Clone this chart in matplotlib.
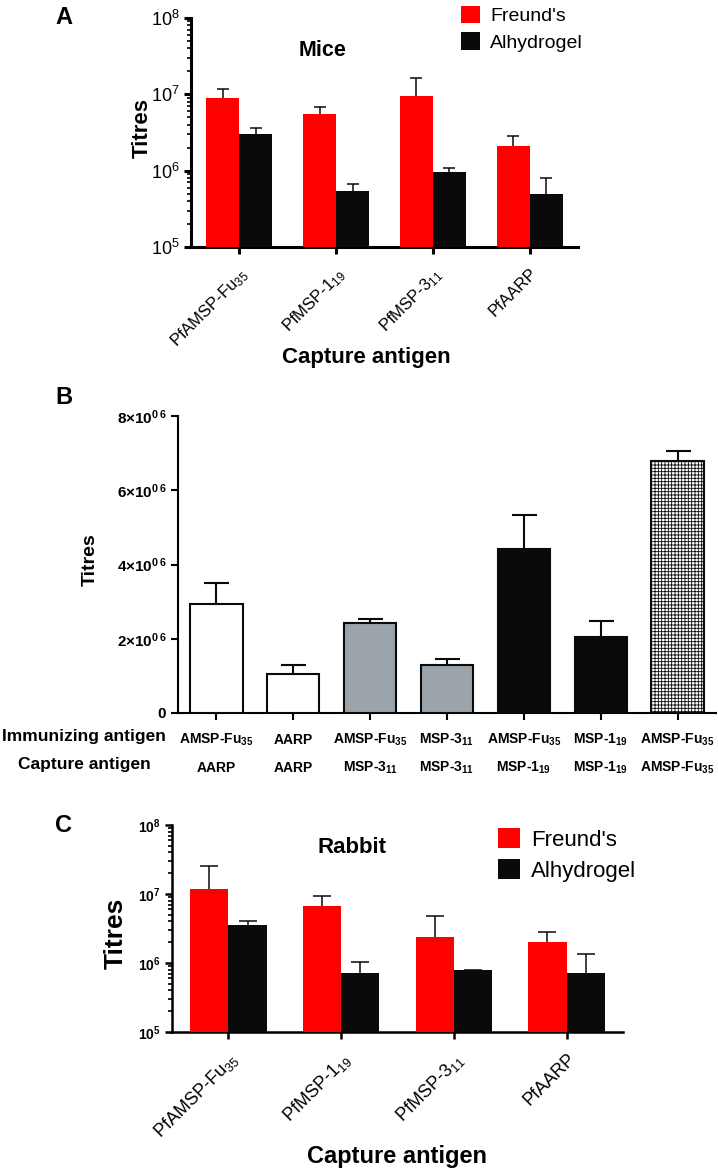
import matplotlib
matplotlib.use("Agg")
from matplotlib import pyplot as plt
from matplotlib.transforms import ScaledTranslation
import numpy as np

plt.rcParams['font.family'] = ['Liberation Sans', 'DejaVu Sans']
plt.rcParams['mathtext.default'] = 'regular'
plt.rcParams['hatch.linewidth'] = 0.6

# Panel A - mice, log titres per capture antigen
capture = ['PfAMSP-Fu$_{35}$', 'PfMSP-1$_{19}$', 'PfMSP-3$_{11}$', 'PfAARP']
freund_A = [9.0e6, 5.5e6, 9.5e6, 2.1e6]
freund_A_err = [2.7e6, 1.3e6, 6.9e6, 0.75e6]
alhy_A = [3.0e6, 5.4e5, 9.6e5, 5.0e5]
alhy_A_err = [0.6e6, 1.3e5, 1.1e5, 3.0e5]

# Panel B - immunizing vs capture antigen
immunizing = ['AMSP-Fu$_{35}$', 'AARP', 'AMSP-Fu$_{35}$', 'MSP-3$_{11}$',
              'AMSP-Fu$_{35}$', 'MSP-1$_{19}$', 'AMSP-Fu$_{35}$']
capture_B = ['AARP', 'AARP', 'MSP-3$_{11}$', 'MSP-3$_{11}$',
             'MSP-1$_{19}$', 'MSP-1$_{19}$', 'AMSP-Fu$_{35}$']
titres_B = [2.94e6, 1.05e6, 2.43e6, 1.29e6, 4.43e6, 2.05e6, 6.79e6]
titres_B_err = [0.56e6, 0.24e6, 0.10e6, 0.17e6, 0.90e6, 0.43e6, 0.27e6]
colors_B = ['white', 'white', '#9aa4aa', '#9aa4aa', '#0a0a0a', '#0a0a0a', 'white']
hatch_B = ['', '', '', '', '', '', '+++++']
yticks_B = [0, 2e6, 4e6, 6e6, 8e6]
ytick_labels_B = ['0', '2×10$^{0\\,6}$', '4×10$^{0\\,6}$', '6×10$^{0\\,6}$', '8×10$^{0\\,6}$']

# Panel C - rabbit
freund_C = [1.18e7, 6.7e6, 2.4e6, 2.0e6]
freund_C_err = [1.37e7, 2.7e6, 2.4e6, 0.8e6]
alhy_C = [3.6e6, 7.2e5, 7.8e5, 7.2e5]
alhy_C_err = [0.45e6, 3.1e5, 0.2e5, 6.5e5]

log_ticks = [1e5, 1e6, 1e7, 1e8]
log_labels = ['10$^{5}$', '10$^{6}$', '10$^{7}$', '10$^{8}$']

RED = '#ff0000'
BLACK = '#0a0a0a'

W, H = 718, 1173
fig = plt.figure(figsize=(W / 100, H / 100), dpi=100)


def px_axes(left, top, right, bottom):
    return fig.add_axes([left / W, 1 - bottom / H, (right - left) / W, (bottom - top) / H])


def grouped_log_panel(ax, fre, fre_err, alh, alh_err, capsize, lw, tick_font, tick_weight, xfont):
    x = np.arange(len(capture))
    w = 0.34
    b1 = ax.bar(x - w / 2, fre, w, color=RED, zorder=3, label="Freund's")
    b2 = ax.bar(x + w / 2, alh, w, color=BLACK, zorder=3, label='Alhydrogel')
    ax.errorbar(x - w / 2, fre, yerr=[np.array(fre) * 0.5, fre_err], fmt='none',
                ecolor=BLACK, elinewidth=1.1, capsize=capsize, capthick=1.1, zorder=2)
    ax.errorbar(x + w / 2, alh, yerr=[np.array(alh) * 0.5, alh_err], fmt='none',
                ecolor=BLACK, elinewidth=1.1, capsize=capsize, capthick=1.1, zorder=2)
    ax.set_yscale('log')
    ax.set_ylim(1e5, 1e8)
    ax.set_xlim(-0.5, len(capture) - 0.5)
    ax.set_yticks(log_ticks)
    ax.set_yticklabels(log_labels, fontsize=tick_font, fontweight=tick_weight)
    ax.set_xticks(x)
    ax.set_xticklabels(capture, rotation=45, ha='right', va='top',
                       rotation_mode='anchor', fontsize=xfont)
    shift = ScaledTranslation(6 / 72, 0, fig.dpi_scale_trans)
    for lbl in ax.get_xticklabels():
        lbl.set_transform(lbl.get_transform() + shift)
    for s in ['top', 'right']:
        ax.spines[s].set_visible(False)
    for s in ['left', 'bottom']:
        ax.spines[s].set_linewidth(lw)
    ax.tick_params(axis='both', which='major', width=lw, length=5, pad=3)
    ax.tick_params(axis='y', which='minor', width=1.2, length=3)
    ax.tick_params(axis='x', pad=8)
    return b1, b2


# ---- A ----
axA = px_axes(191, 18, 578, 247)
hA = grouped_log_panel(axA, freund_A, freund_A_err, alhy_A, alhy_A_err,
                       4.3, 2.2, 13, 'normal', 12)
axA.text(0.339, 0.856, 'Mice', transform=axA.transAxes, ha='center', va='center',
         fontsize=15.5, fontweight='bold')
axA.legend(handles=hA, loc='upper left', bbox_to_anchor=(461 / W, 1 - 6 / H),
           bbox_transform=fig.transFigure, frameon=False, fontsize=14,
           handlelength=1.0, handleheight=1.0, handletextpad=0.5,
           labelspacing=0.35, borderpad=0, borderaxespad=0)
fig.text(142 / W, 1 - 128 / H, 'Titres', rotation=90, ha='center', va='center',
         fontsize=16, fontweight='bold')
fig.text(366 / W, 1 - 357 / H, 'Capture antigen', ha='center', va='center',
         fontsize=16, fontweight='bold')
fig.text(64 / W, 1 - 18 / H, 'A', ha='center', va='center', fontsize=17, fontweight='bold')

# ---- B ----
axB = px_axes(178, 416, 716, 713)
xb = np.arange(len(titres_B))
axB.errorbar(xb, titres_B, yerr=[np.array(titres_B) * 0.5, titres_B_err], fmt='none',
             ecolor=BLACK, elinewidth=1.5, capsize=9, capthick=1.5, zorder=2)
axB.bar(xb, titres_B, 0.68, color=colors_B, edgecolor=BLACK, linewidth=1.5,
        hatch=hatch_B, zorder=3)
axB.set_ylim(0, 8e6)
axB.set_xlim(-0.5, len(titres_B) - 0.5)
axB.set_yticks(yticks_B)
axB.set_yticklabels(ytick_labels_B, fontsize=11, fontweight='bold')
axB.set_xticks(xb)
axB.set_xticklabels([''] * len(xb))
for s in ['top', 'right']:
    axB.spines[s].set_visible(False)
for s in ['left', 'bottom']:
    axB.spines[s].set_linewidth(1.5)
axB.tick_params(axis='both', width=1.5, length=5)
for i in range(len(xb)):
    axB.annotate(immunizing[i], xy=(i, 0), xycoords=('data', 'axes fraction'),
                 xytext=(0, -19.5), textcoords='offset points', ha='center',
                 va='center', fontsize=10, fontweight='bold')
    axB.annotate(capture_B[i], xy=(i, 0), xycoords=('data', 'axes fraction'),
                 xytext=(0, -39.5), textcoords='offset points', ha='center',
                 va='center', fontsize=10, fontweight='bold')
fig.text(84 / W, 1 - 737 / H, 'Immunizing antigen', ha='center', va='center',
         fontsize=12.5, fontweight='bold')
fig.text(84 / W, 1 - 765 / H, 'Capture antigen', ha='center', va='center',
         fontsize=12.5, fontweight='bold')
fig.text(90 / W, 1 - 560 / H, 'Titres', rotation=90, ha='center', va='center',
         fontsize=14, fontweight='bold')
fig.text(64 / W, 1 - 398 / H, 'B', ha='center', va='center', fontsize=17, fontweight='bold')

# ---- C ----
axC = px_axes(172, 825, 623, 1032)
hC = grouped_log_panel(axC, freund_C, freund_C_err, alhy_C, alhy_C_err,
                       6.5, 1.8, 10, 'bold', 13)
axC.text(0.399, 0.889, 'Rabbit', transform=axC.transAxes, ha='center', va='center',
         fontsize=16, fontweight='bold')
axC.legend(handles=hC, loc='upper left', bbox_to_anchor=(498 / W, 1 - 828 / H),
           bbox_transform=fig.transFigure, frameon=False, fontsize=16,
           handlelength=1.0, handleheight=1.0, handletextpad=0.5,
           labelspacing=0.4, borderpad=0, borderaxespad=0)
fig.text(116 / W, 1 - 933 / H, 'Titres', rotation=90, ha='center', va='center',
         fontsize=19, fontweight='bold')
fig.text(397 / W, 1 - 1157 / H, 'Capture antigen', ha='center', va='center',
         fontsize=17, fontweight='bold')
fig.text(64 / W, 1 - 826 / H, 'C', ha='center', va='center', fontsize=17, fontweight='bold')

fig.savefig('out.png', dpi=100)
